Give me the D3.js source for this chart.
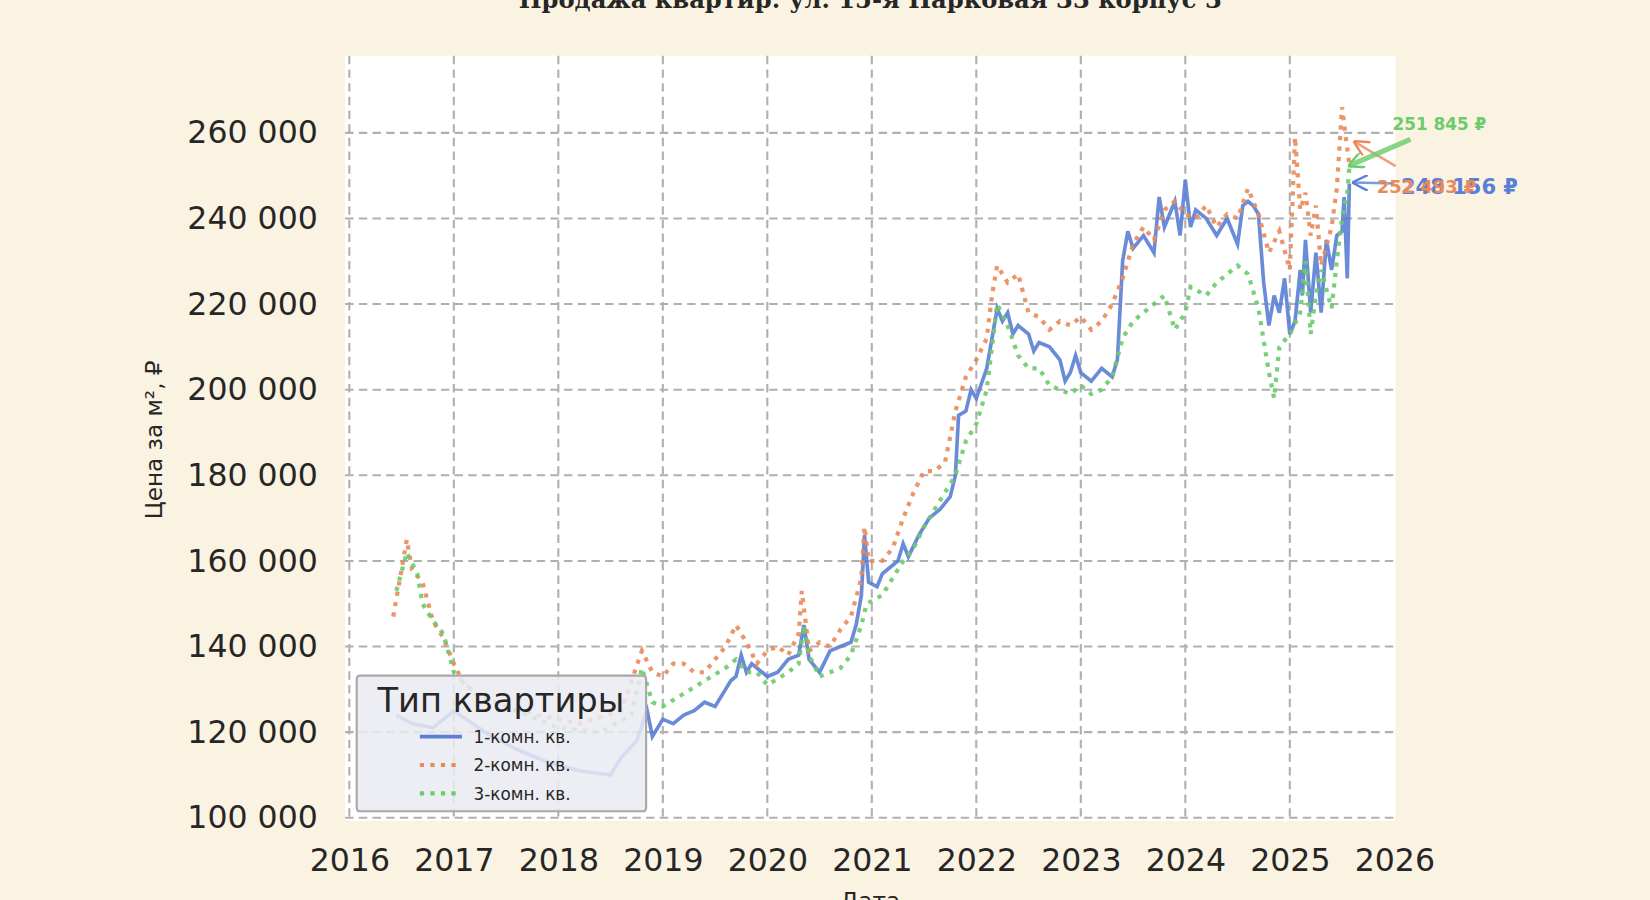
<!DOCTYPE html>
<html>
<head>
<meta charset="utf-8">
<script src="https://cdn.jsdelivr.net/npm/d3@7"></script>
<style>
body { margin: 0; background: #fbf3e2; }
text { font-family: "DejaVu Sans", sans-serif; }
</style>
</head>
<body>
<script>
// layout worked out on a 1568-wide grid, then scaled to the 1650 window
var width = 1568, height = 855;
var k = 1650 / 1568;
var margin = {left: 328, right: 242, top: 53, bottom: 75};

var series = ["1-комн. кв.", "2-комн. кв.", "3-комн. кв."];
var colors = ["#5a7fd4", "#ea8a5a", "#6ccb6a"];
var lastLabels = ["248 156 ₽", "252 493 ₽", "251 845 ₽"];
var yTicks = [100000, 120000, 140000, 160000, 180000, 200000, 220000, 240000, 260000];
var xTicks = [2016, 2017, 2018, 2019, 2020, 2021, 2022, 2023, 2024, 2025, 2026];

var room1 = [[2016.45,124000],[2016.6,122000],[2016.8,121000],[2017.0,125000],[2017.3,120000],[2017.6,116000],[2017.9,113000],[2018.2,111000],[2018.5,110000],[2018.6,114000],[2018.75,118000],[2018.85,125000],[2018.9,119000],[2019.0,123000],[2019.1,122000],[2019.2,124000],[2019.3,125000],[2019.4,127000],[2019.5,126000],[2019.6,130000],[2019.65,132000],[2019.7,133000],[2019.75,138000],[2019.8,134000],[2019.85,136000],[2019.9,135000],[2020.0,133000],[2020.1,134000],[2020.2,137000],[2020.3,138000],[2020.35,145000],[2020.4,137000],[2020.5,134000],[2020.6,139000],[2020.7,140000],[2020.8,141000],[2020.85,145000],[2020.9,152000],[2020.93,166000],[2020.97,155000],[2021.05,154000],[2021.1,157000],[2021.15,158000],[2021.25,160000],[2021.3,164000],[2021.35,161000],[2021.45,166000],[2021.55,170000],[2021.65,172000],[2021.75,175000],[2021.8,180000],[2021.83,194000],[2021.9,195000],[2021.95,200000],[2022.0,198000],[2022.1,205000],[2022.15,212000],[2022.2,219000],[2022.25,216000],[2022.3,218000],[2022.35,213000],[2022.4,215000],[2022.5,213000],[2022.55,209000],[2022.6,211000],[2022.7,210000],[2022.8,207000],[2022.85,202000],[2022.9,204000],[2022.95,208000],[2023.0,204000],[2023.1,202000],[2023.2,205000],[2023.3,203000],[2023.35,207000],[2023.4,230000],[2023.45,237000],[2023.5,233000],[2023.6,236000],[2023.7,232000],[2023.75,245000],[2023.8,238000],[2023.9,244000],[2023.95,236000],[2024.0,249000],[2024.05,238000],[2024.1,242000],[2024.2,240000],[2024.3,236000],[2024.4,240000],[2024.5,234000],[2024.55,243000],[2024.6,244000],[2024.65,243000],[2024.7,241000],[2024.75,225000],[2024.8,215000],[2024.85,222000],[2024.9,218000],[2024.95,226000],[2025.0,213000],[2025.05,216000],[2025.1,228000],[2025.12,222000],[2025.15,235000],[2025.2,218000],[2025.25,232000],[2025.3,218000],[2025.35,235000],[2025.4,228000],[2025.45,236000],[2025.5,237000],[2025.52,245000],[2025.55,226000],[2025.57,248156]];

var room2 = [[2016.42,147000],[2016.5,158000],[2016.55,165000],[2016.6,158000],[2016.7,155000],[2016.8,146000],[2016.9,142000],[2017.0,136000],[2017.1,131000],[2017.4,127000],[2017.8,124000],[2018.2,122000],[2018.6,125000],[2018.8,139000],[2018.9,134000],[2019.0,133000],[2019.1,136000],[2019.2,136000],[2019.3,134000],[2019.4,134000],[2019.5,137000],[2019.6,140000],[2019.7,145000],[2019.8,141000],[2019.9,136000],[2020.0,139000],[2020.1,140000],[2020.2,138000],[2020.3,143000],[2020.33,153000],[2020.4,139000],[2020.5,141000],[2020.6,140000],[2020.7,144000],[2020.8,147000],[2020.9,156000],[2020.93,168000],[2020.97,160000],[2021.1,160000],[2021.2,163000],[2021.3,170000],[2021.4,176000],[2021.5,181000],[2021.6,181000],[2021.7,183000],[2021.8,195000],[2021.9,203000],[2022.0,207000],[2022.1,212000],[2022.15,222000],[2022.2,229000],[2022.3,225000],[2022.4,227000],[2022.5,218000],[2022.6,217000],[2022.7,214000],[2022.8,216000],[2022.9,215000],[2023.0,217000],[2023.1,214000],[2023.2,216000],[2023.3,220000],[2023.4,226000],[2023.5,234000],[2023.6,238000],[2023.7,235000],[2023.8,242000],[2023.9,244000],[2024.0,241000],[2024.1,240000],[2024.2,243000],[2024.3,238000],[2024.4,241000],[2024.5,240000],[2024.6,247000],[2024.7,241000],[2024.8,232000],[2024.9,237000],[2025.0,228000],[2025.05,259000],[2025.1,242000],[2025.15,246000],[2025.2,236000],[2025.25,243000],[2025.3,229000],[2025.4,238000],[2025.45,247000],[2025.5,266000],[2025.52,262000],[2025.57,252493]];

var room3 = [[2016.45,153000],[2016.55,162000],[2016.65,157000],[2016.7,150000],[2016.8,146000],[2016.9,143000],[2017.0,134000],[2017.2,129000],[2017.6,125000],[2018.0,121000],[2018.4,120000],[2018.7,124000],[2018.8,135000],[2018.9,127000],[2019.0,126000],[2019.2,129000],[2019.4,132000],[2019.6,135000],[2019.7,137000],[2019.8,134000],[2019.9,134000],[2020.0,131000],[2020.2,134000],[2020.3,136000],[2020.35,145000],[2020.4,138000],[2020.5,133000],[2020.6,134000],[2020.7,135000],[2020.8,138000],[2020.9,145000],[2020.95,150000],[2021.1,152000],[2021.2,156000],[2021.3,160000],[2021.4,163000],[2021.5,168000],[2021.6,172000],[2021.7,176000],[2021.8,180000],[2021.9,188000],[2022.0,192000],[2022.1,200000],[2022.15,210000],[2022.2,220000],[2022.3,215000],[2022.4,208000],[2022.5,205000],[2022.6,205000],[2022.7,201000],[2022.8,200000],[2022.9,199000],[2023.0,201000],[2023.1,199000],[2023.2,200000],[2023.3,203000],[2023.4,212000],[2023.5,216000],[2023.6,218000],[2023.7,220000],[2023.8,222000],[2023.9,214000],[2024.0,218000],[2024.05,224000],[2024.2,222000],[2024.3,225000],[2024.4,227000],[2024.5,229000],[2024.6,227000],[2024.7,219000],[2024.8,204000],[2024.85,198000],[2024.9,210000],[2025.0,213000],[2025.1,218000],[2025.15,230000],[2025.2,213000],[2025.25,222000],[2025.3,228000],[2025.4,219000],[2025.45,230000],[2025.5,240000],[2025.55,246000],[2025.57,251845]];

var data = [room1, room2, room3];

var root = d3.select("body").append("svg")
    .attr("width", 1650).attr("height", 900);
root.append("rect").attr("width", 1650).attr("height", 900).attr("fill", "#fbf3e2");
var svg = root.append("g").attr("transform", "scale(" + k + ")");

var x = d3.scaleLinear().domain([2015.96, 2026.01]).range([margin.left, width - margin.right]);
var y = d3.scaleLinear().domain([99300, 278000]).range([height - margin.bottom, margin.top]);

svg.append("rect")
    .attr("x", margin.left).attr("y", margin.top)
    .attr("width", width - margin.left - margin.right)
    .attr("height", height - margin.top - margin.bottom)
    .attr("fill", "#ffffff");

// grid
var grid = svg.append("g").attr("stroke", "#b0b0b0").attr("stroke-width", 2).attr("stroke-dasharray", "8,5");
grid.selectAll(".gx").data(xTicks.slice(0, -1)).enter().append("line")
    .attr("x1", d => x(d)).attr("x2", d => x(d))
    .attr("y1", margin.top).attr("y2", height - margin.bottom);
grid.selectAll(".gy").data(yTicks).enter().append("line")
    .attr("x1", margin.left).attr("x2", width - margin.right)
    .attr("y1", d => y(d)).attr("y2", d => y(d));

// axes
var fmt = d => d3.format(",")(d).replace(/,/g, " ");
var yAxis = svg.append("g").attr("transform", "translate(" + margin.left + ",0)")
    .call(d3.axisLeft(y).tickValues(yTicks).tickFormat(fmt).tickSize(0).tickPadding(26));
var xAxis = svg.append("g").attr("transform", "translate(0," + (height - margin.bottom) + ")")
    .call(d3.axisBottom(x).tickValues(xTicks).tickFormat(d3.format("d")).tickSize(0).tickPadding(26));
[xAxis, yAxis].forEach(function(a) {
    a.select(".domain").remove();
    a.selectAll("text").attr("font-size", 30).attr("fill", "#262626").style("font-family", "DejaVu Sans");
});

// lines
var line = d3.line().x(d => x(d[0])).y(d => y(d[1]));
var dashes = [null, "4,6", "4,6"];
data.forEach(function(s, i) {
    svg.append("path").datum(s)
        .attr("fill", "none").attr("stroke", colors[i])
        .attr("stroke-width", i === 0 ? 3.5 : 4)
        .attr("stroke-dasharray", dashes[i])
        .attr("stroke-opacity", 0.9)
        .attr("d", line);
});

// annotations: arrow start/end and text position, relative to the last point
var defs = svg.append("defs");
colors.forEach(function(c, i) {
    defs.append("marker").attr("id", "ar" + i).attr("viewBox", "0 0 10 10")
        .attr("refX", 9).attr("refY", 5).attr("markerWidth", i === 2 ? 3 : 6).attr("markerHeight", i === 2 ? 3 : 6)
        .attr("orient", "auto")
        .append("path").attr("d", "M0,0 L10,5 L0,10").attr("fill", "none").attr("stroke", c).attr("stroke-width", 1.5);
});
var annot = [
    {sx: 43, sy: 0, ex: 4, ey: -1, tx: 49, ty: 10, fs: 20},
    {sx: 44, sy: 1, ex: 5, ey: -22, tx: 26, ty: 27, fs: 17},
    {sx: 58, sy: -27, ex: 0, ey: -2, tx: 41, ty: -36, fs: 16}
];
data.forEach(function(s, i) {
    var p = s[s.length - 1];
    var px = x(p[0]), py = y(p[1]);
    var a = annot[i];
    svg.append("line")
        .attr("x1", px + a.sx).attr("y1", py + a.sy)
        .attr("x2", px + a.ex).attr("y2", py + a.ey)
        .attr("stroke", colors[i]).attr("stroke-opacity", 0.8)
        .attr("stroke-width", i === 2 ? 5 : 2.5)
        .attr("marker-end", "url(#ar" + i + ")");
    svg.append("text")
        .attr("x", px + a.tx).attr("y", py + a.ty)
        .attr("fill", colors[i]).attr("font-size", a.fs)
        .attr("font-weight", "bold")
        .text(lastLabels[i]);
});

// legend
var lg = svg.append("g").attr("transform", "translate(339,642)");
lg.append("rect").attr("width", 275).attr("height", 129).attr("rx", 3)
    .attr("fill", "#eaeaf2").attr("fill-opacity", 0.85)
    .attr("stroke", "#a8a8a8").attr("stroke-width", 2);
lg.append("text").attr("x", 137).attr("y", 35).attr("text-anchor", "middle")
    .attr("font-size", 32).attr("fill", "#262626").text("Тип квартиры");
series.forEach(function(n, i) {
    var yy = 58 + i * 27;
    lg.append("line").attr("x1", 60).attr("x2", 100).attr("y1", yy).attr("y2", yy)
        .attr("stroke", colors[i]).attr("stroke-width", i === 0 ? 3.5 : 4)
        .attr("stroke-dasharray", dashes[i]);
    lg.append("text").attr("x", 111).attr("y", yy + 6)
        .attr("font-size", 16).attr("fill", "#262626").text(n);
});

// titles
svg.append("text").attr("x", 827).attr("y", 8).attr("text-anchor", "middle")
    .style("font-family", "DejaVu Serif").attr("font-weight", "bold").attr("font-size", 23)
    .attr("fill", "#262626").text("Продажа квартир: ул. 15-я Парковая 33 корпус 3");
svg.append("text").attr("x", 827).attr("y", 864).attr("text-anchor", "middle")
    .attr("font-size", 22).attr("fill", "#262626").text("Дата");
svg.append("text").attr("transform", "translate(154,418) rotate(-90)").attr("text-anchor", "middle")
    .attr("font-size", 22).attr("fill", "#262626").text("Цена за м², ₽");
</script>
</body>
</html>
